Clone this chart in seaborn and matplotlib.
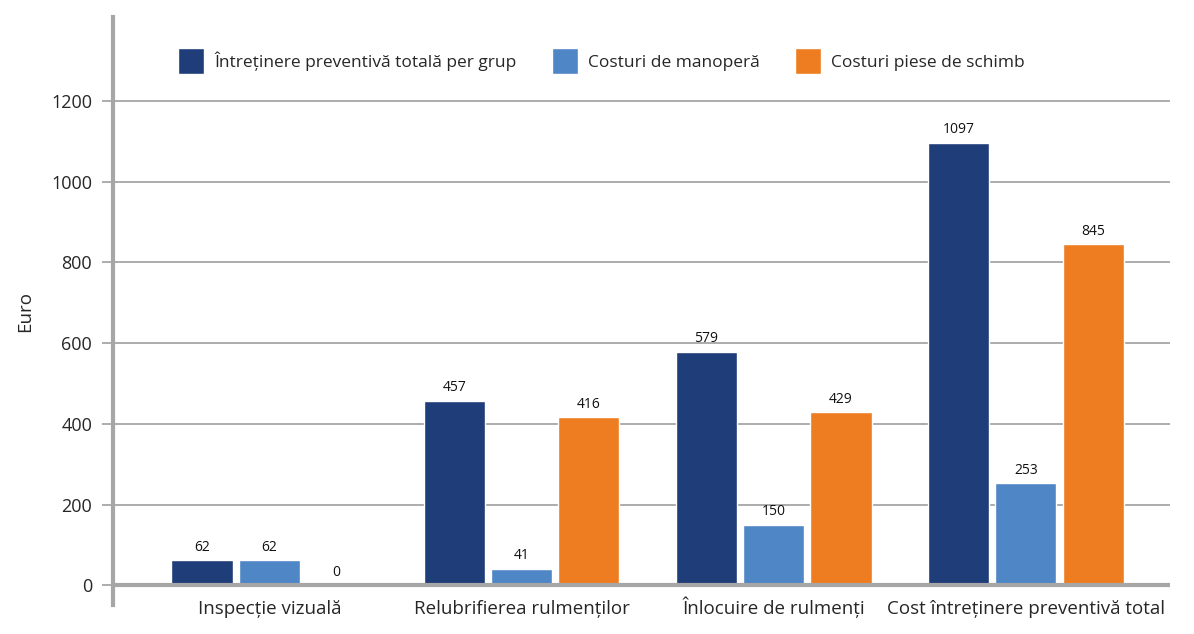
import numpy as np
import pandas as pd
import matplotlib
matplotlib.use("Agg")
import matplotlib.pyplot as plt
import seaborn as sns

categories = ["Inspecție vizuală", "Relubrifierea rulmenților",
              "Înlocuire de rulmenți", "Cost întreținere preventivă total"]
series = ["Întreținere preventivă totală per grup", "Costuri de manoperă",
          "Costuri piese de schimb"]
total_group = [62, 457, 579, 1097]
labour = [62, 41, 150, 253]
parts = [0, 416, 429, 845]
colors = ["#1f3d78", "#4f86c6", "#ee7d22"]

df = pd.DataFrame({
    "cat": categories * 3,
    "serie": [series[0]] * 4 + [series[1]] * 4 + [series[2]] * 4,
    "val": total_group + labour + parts,
})

sns.set_style("white")
plt.rcParams['font.family'] = ['Open Sans', 'DejaVu Sans']

fig = plt.figure(figsize=(11.94, 6.34), dpi=100)
ax = fig.add_axes([0.0946, 0.045, 0.885, 0.928])

sns.barplot(data=df, x="cat", y="val", hue="serie", palette=colors,
            width=0.8, gap=0.09, ax=ax, saturation=1, legend=True)

for c in ax.containers:
    ax.bar_label(c, padding=4, fontsize=10, color="#111111")

grid_c = "#a6a6a6"
ax.set_ylim(-50, 1408)
ax.set_xlim(-0.62, 3.57)
ax.set_yticks([0, 200, 400, 600, 800, 1000, 1200])
ax.yaxis.grid(True, color=grid_c, linewidth=1.3)
ax.set_axisbelow(True)
ax.axhline(0, color=grid_c, linewidth=3, zorder=3)

for s in ["top", "right", "bottom"]:
    ax.spines[s].set_visible(False)
ax.spines["left"].set_color(grid_c)
ax.spines["left"].set_linewidth(3)

ax.tick_params(axis="y", length=8, width=1.3, color=grid_c, labelsize=13,
               pad=7, left=True)
ax.tick_params(axis="x", length=0, labelsize=13.5, pad=6)
for t in ax.get_xticklabels():
    t.set_verticalalignment("baseline")
ax.set_xlabel("")
ax.set_ylabel("Euro", fontsize=13.5, labelpad=12)

ax.legend(loc="center left", bbox_to_anchor=(0.047, 0.925), ncol=3, frameon=False,
          fontsize=12.5, handlelength=1.5, handleheight=1.9, columnspacing=2.0,
          handletextpad=0.6)

fig.savefig("out.png", dpi=100)
